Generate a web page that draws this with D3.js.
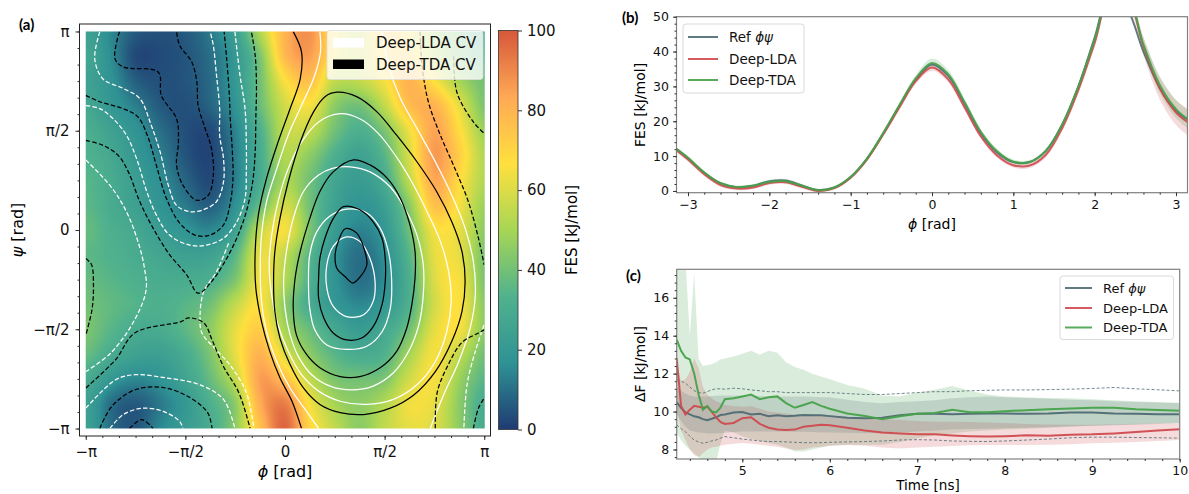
<!DOCTYPE html>
<html lang="en">
<head>
<meta charset="UTF-8">
<title>FES comparison</title>
<script src="https://d3js.org/d3.v7.min.js"></script>
<style>
  body { margin: 0; background: #fff; }
  svg { font-family: 'DejaVu Sans', sans-serif; }
  .tick line { stroke: #333; }
  .tick text { fill: #111; }
</style>
</head>
<body>
<svg id="fig" width="1189" height="494"></svg>
<script>
// ---------- data: panel (a) FES grid, rows psi = +pi .. -pi, cols phi = -pi .. pi (step pi/8)
const fesPhi = d3.range(17).map(k => -Math.PI + k * Math.PI / 8);
const fesPsi = d3.range(17).map(k => Math.PI - k * Math.PI / 8);
const fesGrid = [
  [25, 15,  6,  4,  6, 12, 24, 52, 80, 88, 66, 55, 75, 65, 50, 40, 30],
  [28, 16,  3,  3,  5, 10, 20, 42, 78, 85, 65, 58, 68, 72, 55, 42, 35],
  [25, 18,  7,  4,  5,  9, 20, 40, 66, 76, 55, 55, 65, 80, 66, 50, 40],
  [28, 20, 13,  6,  4,  8, 18, 38, 58, 65, 45, 40, 55, 77, 80, 62, 42],
  [32, 25, 18, 10,  4,  3, 14, 32, 55, 55, 40, 32, 42, 64, 84, 68, 48],
  [33, 28, 20, 13,  5,  2, 13, 30, 52, 45, 32, 25, 35, 60, 86, 72, 52],
  [35, 30, 23, 16,  8,  3, 13, 30, 50, 40, 27, 22, 30, 55, 83, 68, 52],
  [36, 30, 24, 18, 12,  7, 17, 38, 58, 40, 25, 18, 24, 45, 76, 65, 48],
  [38, 32, 28, 22, 18, 15, 25, 55, 65, 42, 22, 14, 20, 40, 65, 62, 45],
  [36, 33, 30, 27, 24, 25, 35, 62, 55, 35, 18, 10, 17, 35, 62, 62, 42],
  [38, 35, 32, 30, 30, 32, 42, 64, 52, 33, 18, 10, 16, 32, 60, 65, 42],
  [40, 37, 34, 32, 35, 40, 55, 66, 45, 30, 20, 15, 20, 33, 58, 66, 45],
  [42, 35, 30, 30, 36, 45, 62, 72, 50, 38, 28, 22, 28, 40, 62, 65, 45],
  [38, 30, 25, 24, 30, 42, 62, 80, 60, 45, 35, 30, 33, 50, 65, 55, 40],
  [30, 20, 15, 18, 26, 38, 55, 85, 76, 55, 42, 40, 42, 58, 65, 48, 35],
  [25, 10,  6, 12, 20, 32, 45, 82, 92, 65, 50, 45, 52, 64, 62, 45, 30],
  [25, 10,  5, 15, 22, 30, 45, 76, 97, 70, 55, 45, 55, 62, 60, 45, 30]
];
const fessa = ['#1F3B73', '#2F9294', '#50B28D', '#A7D655', '#FFE03E', '#FFA955', '#D6573B'];
const cbTicks = [0, 20, 40, 60, 80, 100];
const piTicks = [-Math.PI, -Math.PI / 2, 0, Math.PI / 2, Math.PI];
const piLabels = ['\u2212\u03c0', '\u2212\u03c0/2', '0', '\u03c0/2', '\u03c0'];

// CV iso-lines [phi, psi]
const tdaLoops = [
  [[0.95,0.02],[1.13,-0.05],[1.26,-0.34],[1.29,-0.55],[1.21,-0.71],[1.07,-0.84],[0.95,-0.74],[0.82,-0.61],[0.79,-0.39],[0.84,-0.18]],
  [[0.92,0.37],[1.18,0.32],[1.39,0.13],[1.53,-0.13],[1.58,-0.45],[1.58,-0.82],[1.53,-1.18],[1.39,-1.53],[1.21,-1.71],[0.97,-1.74],[0.76,-1.63],[0.61,-1.39],[0.53,-1.08],[0.53,-0.76],[0.55,-0.45],[0.63,-0.13],[0.76,0.18]],
  [[1.08,1.11],[1.34,1.03],[1.61,0.82],[1.82,0.50],[1.97,0.08],[2.05,-0.34],[2.05,-0.76],[2.00,-1.18],[1.92,-1.55],[1.76,-1.92],[1.50,-2.18],[1.18,-2.32],[0.87,-2.32],[0.55,-2.18],[0.34,-1.97],[0.18,-1.66],[0.13,-1.24],[0.16,-0.76],[0.24,-0.34],[0.39,0.18],[0.55,0.61],[0.76,0.92]],
  [[0.82,2.18],[1.13,2.11],[1.45,1.87],[1.76,1.50],[2.08,1.08],[2.39,0.61],[2.63,0.13],[2.79,-0.34],[2.84,-0.82],[2.79,-1.29],[2.63,-1.76],[2.37,-2.24],[2.03,-2.61],[1.66,-2.82],[1.24,-2.92],[0.87,-2.89],[0.55,-2.76],[0.29,-2.50],[0.08,-2.13],[-0.08,-1.71],[-0.16,-1.29],[-0.18,-0.82],[-0.16,-0.34],[-0.08,0.18],[0.05,0.76],[0.24,1.39],[0.45,1.87],[0.63,2.11]]
];
const tdaOpen = [
  [[0.13,3.14],[0.26,2.82],[0.24,2.39],[0.08,1.92],[-0.11,1.39],[-0.29,0.82],[-0.42,0.24],[-0.47,-0.34],[-0.46,-0.92],[-0.37,-1.45],[-0.24,-1.92],[-0.08,-2.34],[0.11,-2.71],[0.26,-3.14]]
];
const tdaNeg = [
  [[-2.61,3.14],[-2.68,2.71],[-2.55,2.58],[-2.00,2.50],[-1.95,2.13],[-1.71,1.76],[-1.68,1.39],[-1.71,1.03],[-1.61,0.71],[-1.39,0.47],[-1.21,0.55],[-1.13,0.87],[-1.16,1.29],[-1.26,1.61],[-1.37,1.97],[-1.39,2.34],[-1.47,2.66],[-1.66,2.92],[-1.71,3.14]],
  [[-3.14,2.13],[-2.92,2.03],[-2.55,1.92],[-2.32,1.79],[-2.16,1.47],[-2.03,1.03],[-1.87,0.50],[-1.66,0.11],[-1.42,-0.08],[-1.18,-0.08],[-0.97,0.08],[-0.87,0.39],[-0.82,0.82],[-0.83,1.24],[-0.86,1.71],[-0.88,2.18],[-0.92,2.71],[-0.96,3.14]],
  [[-3.14,1.42],[-2.87,1.34],[-2.63,1.18],[-2.47,0.92],[-2.29,0.45],[-2.08,0.03],[-1.82,-0.39],[-1.55,-0.71],[-1.37,-1.00],[-1.16,-0.82],[-0.92,-0.45],[-0.74,-0.08],[-0.61,0.29],[-0.51,0.76],[-0.47,1.24],[-0.46,1.76],[-0.45,2.29],[-0.47,2.76],[-0.53,3.14]],
  [[-3.14,-0.45],[-3.05,-0.55],[-3.02,-0.87],[-3.04,-1.24],[-3.11,-1.55],[-3.14,-1.66]],
  [[-3.14,-2.50],[-2.67,-2.05],[-2.37,-1.63],[-1.64,-1.45],[-1.52,-1.39],[-1.28,-1.47],[-1.15,-1.74],[-0.97,-2.16],[-0.73,-2.57],[-0.55,-3.14]],
  [[-2.92,-3.14],[-2.73,-2.79],[-2.37,-2.53],[-1.94,-2.49],[-1.52,-2.64],[-1.22,-2.89],[-1.15,-3.14]],
  [[-2.45,-3.14],[-2.26,-3.00],[-2.08,-3.14]],
  [[2.13,3.14],[2.16,2.61],[2.26,2.03],[2.45,1.50],[2.68,0.97],[2.89,0.45],[3.05,-0.13],[3.14,-0.55]],
  [[2.66,2.75],[2.71,2.18],[2.97,1.71],[3.14,1.53]],
  [[2.37,-3.14],[2.40,-2.57],[2.56,-2.16],[2.79,-1.78],[3.05,-1.63],[3.14,-1.58]],
  [[2.97,-3.14],[3.05,-2.82],[3.14,-2.66]]
];
const ldaLoops = [
  [[0.97,-0.11],[1.18,-0.18],[1.34,-0.45],[1.42,-0.82],[1.39,-1.13],[1.24,-1.34],[0.97,-1.37],[0.76,-1.21],[0.66,-0.92],[0.66,-0.55],[0.76,-0.26]],
  [[0.97,0.33],[1.29,0.27],[1.50,0.03],[1.63,-0.34],[1.68,-0.76],[1.66,-1.24],[1.53,-1.61],[1.29,-1.84],[0.97,-1.89],[0.66,-1.82],[0.47,-1.58],[0.39,-1.24],[0.37,-0.82],[0.39,-0.39],[0.50,-0.03],[0.71,0.22]],
  [[1.03,1.00],[1.34,0.92],[1.66,0.68],[1.89,0.34],[2.08,-0.08],[2.18,-0.55],[2.18,-1.03],[2.11,-1.50],[1.95,-1.92],[1.71,-2.26],[1.39,-2.47],[1.05,-2.53],[0.71,-2.47],[0.42,-2.29],[0.21,-2.00],[0.08,-1.66],[0.00,-1.24],[-0.02,-0.76],[0.03,-0.29],[0.13,0.18],[0.29,0.61],[0.53,0.87],[0.76,0.98]],
  [[0.87,1.84],[1.18,1.76],[1.47,1.53],[1.74,1.18],[2.00,0.76],[2.24,0.29],[2.45,-0.18],[2.58,-0.66],[2.62,-1.13],[2.55,-1.61],[2.37,-2.08],[2.08,-2.45],[1.71,-2.68],[1.29,-2.76],[0.87,-2.71],[0.53,-2.55],[0.26,-2.29],[0.05,-1.92],[-0.11,-1.50],[-0.21,-1.03],[-0.25,-0.55],[-0.21,-0.08],[-0.11,0.45],[0.05,0.97],[0.26,1.39],[0.53,1.71]]
];
const ldaOpen = [
  [[0.55,3.14],[0.56,2.82],[0.47,2.45],[0.26,1.97],[0.05,1.50],[-0.13,0.97],[-0.29,0.45],[-0.37,-0.08],[-0.39,-0.61],[-0.37,-1.13],[-0.29,-1.61],[-0.13,-2.08],[0.08,-2.50],[0.34,-2.87],[0.53,-3.14]],
  [[1.53,3.14],[1.63,2.61],[1.82,2.08],[2.08,1.61],[2.37,1.08],[2.63,0.55],[2.84,0.03],[2.97,-0.50],[3.00,-1.03],[2.92,-1.55],[2.74,-2.08],[2.50,-2.61],[2.29,-3.14]]
];
const ldaNeg = [
  [[-2.92,3.14],[-3.00,2.71],[-2.87,2.39],[-2.55,2.24],[-2.29,2.08],[-2.11,1.66],[-1.97,1.24],[-1.84,0.71],[-1.71,0.39],[-1.50,0.29],[-1.29,0.32],[-1.08,0.45],[-0.97,0.76],[-0.97,1.13],[-1.03,1.50],[-1.03,1.92],[-1.08,2.45],[-1.13,2.92],[-1.18,3.14]],
  [[-3.14,1.97],[-2.92,1.92],[-2.71,1.76],[-2.50,1.50],[-2.34,1.13],[-2.18,0.61],[-2.03,0.24],[-1.82,-0.08],[-1.50,-0.24],[-1.24,-0.24],[-0.97,-0.13],[-0.76,0.13],[-0.63,0.50],[-0.61,0.92],[-0.61,1.39],[-0.63,1.92],[-0.71,2.45],[-0.79,3.14]],
  [[-3.14,1.11],[-2.74,0.68],[-2.49,0.27],[-2.31,-0.21],[-2.22,-0.58],[-2.19,-0.95],[-2.37,-1.42],[-2.74,-1.94],[-3.14,-2.24]],
  [[-0.89,-0.21],[-1.08,-0.66],[-1.28,-0.97],[-1.34,-1.37],[-1.31,-1.63],[-1.09,-1.89],[-0.85,-2.16],[-0.61,-2.57],[-0.49,-3.14]],
  [[-3.14,-2.82],[-2.67,-2.37],[-2.37,-2.29],[-1.88,-2.34],[-1.34,-2.45],[-0.97,-2.68],[-0.79,-3.14]],
  [[-2.76,-3.14],[-2.55,-2.92],[-2.24,-2.82],[-1.92,-2.87],[-1.66,-3.03],[-1.61,-3.14]],
  [[3.14,-1.50],[3.00,-1.92],[2.87,-2.45],[2.82,-3.14]]
];

// ---------- data: panel (b) FES along phi
const phiB = [-3.14,-3.0,-2.8,-2.6,-2.4,-2.2,-2.0,-1.8,-1.6,-1.4, -1.2,-1.0,-0.8,-0.6,-0.4,-0.2,0.0,0.2,0.4,0.6, 0.8,1.0,1.2,1.4,1.6,1.8,2.0,2.2,2.4,2.6, 2.8,3.0,3.14];
const refB = [12.0,9.4,5.2,2.2,1.1,1.5,2.8,3.0,1.6,0.3, 1.0,4.0,9.2,16.5,24.5,32.0,36.3,33.0,25.0,16.5, 11.0,8.3,8.3,11.5,19.0,30.0,44.0,58.0,52.5,40.0, 29.5,23.0,20.5];
const ldaB = [11.6,9.0,4.8,1.7,0.7,1.0,2.3,2.5,1.2,0.0, 0.8,3.8,9.0,16.2,24.0,31.5,35.4,32.0,24.0,15.7, 10.2,7.4,7.3,10.4,18.0,29.0,42.5,56.5,55.5,41.5, 29.5,22.5,19.8];
const tdaB = [12.0,9.5,5.3,2.2,1.1,1.5,2.6,2.8,1.5,0.2, 1.0,4.0,9.3,16.6,24.6,32.3,36.7,33.5,25.5,17.0, 11.4,8.4,8.3,11.5,19.0,30.0,43.5,57.0,56.0,42.0, 30.5,23.5,20.7];
const ldaBerr = [0.6,0.6,0.6,0.5,0.5,0.5,0.5,0.5,0.5,0.4, 0.4,0.4,0.5,0.6,0.7,0.8,0.9,0.9,0.8,0.7, 0.7,0.7,0.7,0.8,0.9,1.0,1.2,1.5,2.0,2.6, 3.2,3.6,3.8];
const tdaBerr = [0.5,0.5,0.5,0.5,0.5,0.5,0.6,0.6,0.5,0.4, 0.4,0.4,0.5,0.6,0.8,1.0,1.3,1.2,1.0,0.8, 0.7,0.6,0.6,0.7,0.8,0.9,1.0,1.2,1.5,2.0, 2.4,2.6,2.7];

// ---------- data: panel (c) Delta F vs time
const tC = [4.25,4.3,4.35,4.4,4.45,4.5,4.55,4.6,4.65,4.7, 4.75,4.8,4.9,5.0,5.1,5.2,5.3,5.4,5.5,5.6, 5.7,5.8,5.9,6.0,6.2,6.4,6.6,6.8,7.0,7.2, 7.4,7.6,7.8,8.0,8.25,8.5,8.75,9.0,9.25,9.5, 9.75,10.0];
const refC = [10.5,10.2,9.95,9.85,9.75,9.7,9.6,9.55,9.62,9.7, 9.82,9.85,9.95,9.98,9.85,9.88,9.76,9.8,9.76,9.78, 9.82,9.8,9.8,9.76,9.68,9.65,9.68,9.8,9.88,9.88, 9.86,9.88,9.9,9.9,9.88,9.9,9.95,9.95,9.9,9.88, 9.86,9.86];
const ldaC = [12.8,10.3,9.85,10.1,10.3,10.25,10.2,10.25,10.0,9.7, 9.45,9.35,9.4,9.65,9.7,9.35,9.15,9.05,9.03,9.05, 9.2,9.25,9.3,9.28,9.15,9.0,8.9,8.85,8.8,8.8, 8.74,8.7,8.68,8.7,8.75,8.73,8.78,8.8,8.85,8.92, 9.0,9.07];
const tdaC = [13.8,13.2,12.85,12.75,12.0,10.9,10.1,10.3,10.0,9.95, 10.2,10.65,10.7,10.8,10.9,10.65,10.75,10.8,10.45,10.2, 10.35,10.5,10.3,10.15,9.9,9.77,9.6,9.75,9.88,9.92, 10.1,9.97,9.96,10.02,10.07,10.12,10.16,10.2,10.2,10.12, 10.08,10.05];
const refUp = [11.3,11.1,10.95,10.85,10.8,10.8,10.8,10.8,10.82,10.84, 10.85,10.85,10.85,10.85,10.85,10.82,10.8,10.8,10.8,10.8, 10.8,10.78,10.76,10.75,10.62,10.5,10.44,10.5,10.55,10.6, 10.7,10.75,10.8,10.75,10.72,10.68,10.62,10.6,10.55,10.5, 10.48,10.45];
const refLo = [9.9,9.5,9.2,9.0,8.95,8.9,8.88,8.85,8.85,8.86, 8.86,8.88,8.92,8.95,8.95,8.95,8.95,8.95,8.95,8.94, 8.93,8.92,8.9,8.9,8.88,8.86,8.86,8.9,8.95,9.0, 9.05,9.08,9.1,9.12,9.15,9.18,9.22,9.25,9.28,9.3, 9.35,9.4];
const ldaUp = [12.6,11.6,11.7,12.1,12.8,12.3,11.3,10.9,10.7,10.55, 10.45,10.35,10.3,10.25,10.3,10.15,10.0,9.95,9.9,9.85, 9.85,9.85,9.8,9.8,9.72,9.65,9.58,9.55,9.5,9.47, 9.46,9.45,9.42,9.4,9.35,9.32,9.3,9.3,9.33,9.36, 9.38,9.38];
const ldaLo = [10.1,9.0,8.5,8.0,7.7,7.6,7.8,8.0,8.1,8.15, 8.2,8.25,8.3,8.35,8.3,8.25,8.2,8.15,8.05,7.98, 8.0,8.1,8.15,8.2,8.24,8.2,8.1,8.06,8.1,8.15, 8.18,8.22,8.24,8.24,8.24,8.25,8.28,8.33,8.36,8.4, 8.45,8.5];
const tdaUp = [18,18,18,14.0,17.3,12.8,12.4,12.45,12.5,12.6, 12.75,12.8,12.9,13.05,13.2,13.0,13.2,13.1,12.6,12.35, 12.2,12.0,11.85,11.7,11.4,11.2,10.85,10.8,11.0,11.15, 11.35,11.1,10.9,10.8,10.75,10.72,10.7,10.65,10.6,10.55, 10.5,10.45];
const tdaLo = [8.9,8.5,8.2,8.0,7.8,7.6,7.3,7.3,7.3,7.3, 8.3,9.0,8.9,8.7,8.55,8.45,8.35,8.25,8.1,7.9, 7.9,8.0,8.1,8.2,8.25,8.25,8.25,8.4,8.6,8.75, 8.85,8.95,9.0,9.05,9.1,9.15,9.2,9.25,9.3,9.35, 9.38,9.4];
const dashUp = [11.67,11.6,11.5,11.3,11.1,11.0,10.97,11.05,11.15,11.2, 11.2,11.18,11.23,11.2,11.14,11.1,11.05,11.05,11.0,11.0, 11.0,11.0,11.0,11.0,10.95,10.9,10.9,10.95,11.0,11.05, 11.05,11.1,11.12,11.14,11.14,11.16,11.18,11.22,11.27,11.2, 11.15,11.09];
const dashLo = [9.3,9.1,8.94,8.7,8.5,8.4,8.33,8.38,8.45,8.5, 8.6,8.68,8.62,8.55,8.5,8.45,8.42,8.42,8.4,8.38, 8.36,8.36,8.36,8.38,8.4,8.42,8.45,8.5,8.52,8.5, 8.45,8.43,8.42,8.45,8.5,8.55,8.62,8.65,8.65,8.63, 8.62,8.6];

const seriesNames = ['Ref ', 'Deep-LDA', 'Deep-TDA'];
const colRef = '#4f6c73', colLda = '#cf4a4e', colTda = '#46a249';

const svg = d3.select('#fig');

function styleAxis(g, size) {
  g.attr('font-family', "'DejaVu Sans', sans-serif").attr('font-size', size);
  g.select('.domain').remove();
  g.selectAll('.tick line').attr('stroke', '#333');
}

// =============== panel (a) ===============
const xA = d3.scaleLinear().domain([-3.24, 3.24]).range([79.5, 490.5]);
const yA = d3.scaleLinear().domain([-3.26, 3.26]).range([436, 24]);
const fesColor = d3.scaleLinear().domain(d3.range(7).map(i => i * 100 / 6)).range(fessa).clamp(true);
const lut = d3.range(1001).map(i => d3.rgb(fesColor(i / 10)));

const gx0 = xA(-Math.PI), gx1 = xA(Math.PI), gy0 = yA(Math.PI), gy1 = yA(-Math.PI);
const HW = Math.round(gx1 - gx0), HH = Math.round(gy1 - gy0);
const canvas = document.createElement('canvas');
canvas.width = HW; canvas.height = HH;
const ctx = canvas.getContext('2d');
const img = ctx.createImageData(HW, HH);
const nR = fesGrid.length, nC = fesGrid[0].length;
const at = (r, c) => fesGrid[Math.max(0, Math.min(nR - 1, r))][Math.max(0, Math.min(nC - 1, c))];
const cr = (p0, p1, p2, p3, t) => p1 + 0.5 * t * (p2 - p0 + t * (2 * p0 - 5 * p1 + 4 * p2 - p3 + t * (3 * (p1 - p2) + p3 - p0)));
function fesAt(phi, psi) {
  const u = (phi - fesPhi[0]) / (fesPhi[1] - fesPhi[0]);
  const v = (fesPsi[0] - psi) / (fesPsi[0] - fesPsi[1]);
  const c = Math.floor(u), r = Math.floor(v), tu = u - c, tv = v - r;
  const rows = [-1, 0, 1, 2].map(k => cr(at(r + k, c - 1), at(r + k, c), at(r + k, c + 1), at(r + k, c + 2), tu));
  return cr(rows[0], rows[1], rows[2], rows[3], tv);
}
for (let j = 0; j < HH; j++) {
  const psi = yA.invert(gy0 + j + 0.5);
  for (let i = 0; i < HW; i++) {
    const phi = xA.invert(gx0 + i + 0.5);
    let v = fesAt(phi, psi);
    v = Math.max(0, Math.min(100, v));
    const c = lut[Math.round(v * 10)];
    const k = (j * HW + i) * 4;
    img.data[k] = c.r; img.data[k + 1] = c.g; img.data[k + 2] = c.b; img.data[k + 3] = 255;
  }
}
ctx.putImageData(img, 0, 0);

const gA = svg.append('g');
gA.append('image').attr('x', gx0).attr('y', gy0).attr('width', HW).attr('height', HH)
  .attr('preserveAspectRatio', 'none').attr('href', canvas.toDataURL());

const defs = svg.append('defs');
defs.append('clipPath').attr('id', 'clipA').append('rect')
  .attr('x', gx0).attr('y', gy0).attr('width', gx1 - gx0).attr('height', gy1 - gy0);

const openA = d3.line().x(d => xA(d[0])).y(d => yA(d[1])).curve(d3.curveCatmullRom.alpha(0.5));
const loopA = d3.line().x(d => xA(d[0])).y(d => yA(d[1])).curve(d3.curveCatmullRomClosed.alpha(0.5));
const cont = gA.append('g').attr('clip-path', 'url(#clipA)').attr('fill', 'none').attr('stroke-width', 1.25);
function drawSet(data, gen, color, dashed) {
  cont.selectAll(null).data(data).enter().append('path')
    .attr('d', gen).attr('stroke', color)
    .attr('stroke-dasharray', dashed ? '4.5,2.2' : null);
}
drawSet(ldaLoops, loopA, '#fff', false);
drawSet(ldaOpen, openA, '#fff', false);
drawSet(ldaNeg, openA, '#fff', true);
drawSet(tdaLoops, loopA, '#000', false);
drawSet(tdaOpen, openA, '#000', false);
drawSet(tdaNeg, openA, '#000', true);

// frame + axes (a)
gA.append('rect').attr('x', 79.5).attr('y', 24).attr('width', 411).attr('height', 412)
  .attr('fill', 'none').attr('stroke', '#222').attr('stroke-width', 1);
const minorPi = d3.range(-12, 13).map(k => k * Math.PI / 12);
const axAx = gA.append('g').attr('transform', 'translate(0,436)')
  .call(d3.axisBottom(xA).tickValues(piTicks).tickFormat((d, i) => piLabels[i]).tickSize(4).tickPadding(6));
styleAxis(axAx, 15);
const axAxm = gA.append('g').attr('transform', 'translate(0,436)')
  .call(d3.axisBottom(xA).tickValues(minorPi).tickFormat('').tickSize(2));
styleAxis(axAxm, 15);
const axAy = gA.append('g').attr('transform', 'translate(79.5,0)')
  .call(d3.axisLeft(yA).tickValues(piTicks).tickFormat((d, i) => piLabels[i]).tickSize(4).tickPadding(6));
styleAxis(axAy, 15);
const axAym = gA.append('g').attr('transform', 'translate(79.5,0)')
  .call(d3.axisLeft(yA).tickValues(minorPi).tickFormat('').tickSize(2));
styleAxis(axAym, 15);

gA.append('text').attr('x', 285).attr('y', 477).attr('text-anchor', 'middle').attr('font-size', 16)
  .html('<tspan font-style="italic">\u03d5</tspan> [rad]');
gA.append('text').attr('transform', 'translate(23,230) rotate(-90)').attr('text-anchor', 'middle').attr('font-size', 16)
  .html('<tspan font-style="italic">\u03c8</tspan> [rad]');
svg.append('text').attr('x', 19).attr('y', 30).attr('font-family', 'Lato, sans-serif')
  .attr('font-weight', 'bold').attr('font-size', 15).text('(a)');

// legend (a)
const legA = gA.append('g');
legA.append('rect').attr('x', 327).attr('y', 30.5).attr('width', 156).attr('height', 49).attr('rx', 3)
  .attr('fill', '#fff').attr('fill-opacity', 0.8).attr('stroke', '#ddd').attr('stroke-width', 0.8);
[['#fff', 'Deep-LDA CV', 38], ['#000', 'Deep-TDA CV', 59.5]].forEach(([c, t, yy]) => {
  legA.append('rect').attr('x', 333).attr('y', yy).attr('width', 31).attr('height', 9.5).attr('fill', c);
  legA.append('text').attr('x', 376).attr('y', yy + 10).attr('font-size', 15).attr('fill', '#111').text(t);
});

// colorbar
const yCb = d3.scaleLinear().domain([0, 100]).range([429.5, 30.5]);
const grad = defs.append('linearGradient').attr('id', 'cbGrad').attr('x1', 0).attr('y1', 1).attr('x2', 0).attr('y2', 0);
fessa.forEach((c, i) => grad.append('stop').attr('offset', i / (fessa.length - 1)).attr('stop-color', c));
svg.append('rect').attr('x', 498.5).attr('y', yCb(100)).attr('width', 19.5).attr('height', yCb(0) - yCb(100))
  .attr('fill', 'url(#cbGrad)').attr('stroke', '#333').attr('stroke-width', 0.8);
const axCb = svg.append('g').attr('transform', 'translate(518,0)')
  .call(d3.axisRight(yCb).tickValues(cbTicks).tickSize(4).tickPadding(5));
styleAxis(axCb, 15);
svg.append('text').attr('transform', 'translate(577,230) rotate(-90)').attr('text-anchor', 'middle')
  .attr('font-size', 15).text('FES [kJ/mol]');

// =============== panel (b) ===============
const xB = d3.scaleLinear().domain([-Math.PI, Math.PI]).range([676.5, 1187.5]);
const yB = d3.scaleLinear().domain([-0.5, 50]).range([192.7, 16.7]);
defs.append('clipPath').attr('id', 'clipB').append('rect')
  .attr('x', 676.5).attr('y', 16.7).attr('width', 511).attr('height', 176);
const gB = svg.append('g');
const plotB = gB.append('g').attr('clip-path', 'url(#clipB)');
const rowsB = phiB.map((p, i) => ({ p, r: refB[i], l: ldaB[i], t: tdaB[i], le: ldaBerr[i], te: tdaBerr[i] }));
const areaB = (f, e) => d3.area().x(d => xB(d.p)).y0(d => yB(d[f] - d[e])).y1(d => yB(d[f] + d[e])).curve(d3.curveCatmullRom);
const lineB = f => d3.line().x(d => xB(d.p)).y(d => yB(d[f])).curve(d3.curveCatmullRom);
plotB.append('path').datum(rowsB).attr('d', areaB('l', 'le')).attr('fill', colLda).attr('fill-opacity', 0.2);
plotB.append('path').datum(rowsB).attr('d', areaB('t', 'te')).attr('fill', colTda).attr('fill-opacity', 0.2);
[['r', colRef], ['l', colLda], ['t', colTda]].forEach(([f, c]) => {
  plotB.append('path').datum(rowsB).attr('d', lineB(f)).attr('fill', 'none')
    .attr('stroke', c).attr('stroke-width', 2).attr('stroke-opacity', 0.9);
});
gB.append('rect').attr('x', 676.5).attr('y', 16.7).attr('width', 511).attr('height', 176)
  .attr('fill', 'none').attr('stroke', '#808080').attr('stroke-width', 1.2);
const axBx = gB.append('g').attr('transform', 'translate(0,192.7)')
  .call(d3.axisBottom(xB).tickValues(d3.range(-3, 4)).tickFormat(d3.format('d')).tickSize(3.5).tickPadding(4));
styleAxis(axBx, 12.5);
axBx.selectAll('text').text(d => d < 0 ? '\u2212' + Math.abs(d) : d);
const axBxm = gB.append('g').attr('transform', 'translate(0,192.7)')
  .call(d3.axisBottom(xB).tickValues(d3.range(-15, 16).map(k => k / 5)).tickFormat('').tickSize(2));
styleAxis(axBxm, 12);
const axBy = gB.append('g').attr('transform', 'translate(676.5,0)')
  .call(d3.axisLeft(yB).tickValues(d3.range(0, 51, 10)).tickSize(3.5).tickPadding(4));
styleAxis(axBy, 12.5);
const axBym = gB.append('g').attr('transform', 'translate(676.5,0)')
  .call(d3.axisLeft(yB).tickValues(d3.range(0, 51, 2)).tickFormat('').tickSize(2));
styleAxis(axBym, 12);
gB.append('text').attr('x', 932).attr('y', 229).attr('text-anchor', 'middle').attr('font-size', 14)
  .html('<tspan font-style="italic">\u03d5</tspan> [rad]');
gB.append('text').attr('transform', 'translate(645,105) rotate(-90)').attr('text-anchor', 'middle')
  .attr('font-size', 14).text('FES [kJ/mol]');
svg.append('text').attr('x', 622).attr('y', 23).attr('font-family', 'Lato, sans-serif')
  .attr('font-weight', 'bold').attr('font-size', 15).text('(b)');

function legend(g, x0, y0, w, h, rowY, lx0, lx1, tx, size) {
  g.append('rect').attr('x', x0).attr('y', y0).attr('width', w).attr('height', h).attr('rx', 3)
    .attr('fill', '#fff').attr('fill-opacity', 0.8).attr('stroke', '#d0d0d0').attr('stroke-width', 0.8);
  [colRef, colLda, colTda].forEach((c, i) => {
    g.append('line').attr('x1', lx0).attr('x2', lx1).attr('y1', rowY[i]).attr('y2', rowY[i])
      .attr('stroke', c).attr('stroke-width', 2).attr('stroke-opacity', 0.9);
    const t = g.append('text').attr('x', tx).attr('y', rowY[i] + size * 0.36).attr('font-size', size).attr('fill', '#111');
    if (i === 0) t.html(seriesNames[0] + '<tspan font-style="italic">\u03d5\u03c8</tspan>');
    else t.text(seriesNames[i]);
  });
}
legend(gB, 683, 24, 121, 69, [37, 59, 80], 688, 718, 729, 13.5);

// =============== panel (c) ===============
const xC = d3.scaleLinear().domain([4.25, 10]).range([676.7, 1179.7]);
const yC = d3.scaleLinear().domain([7.5, 17.5]).range([459, 269.3]);
defs.append('clipPath').attr('id', 'clipC').append('rect')
  .attr('x', 676.7).attr('y', 269.3).attr('width', 503).attr('height', 189.7);
const gC = svg.append('g');
const plotC = gC.append('g').attr('clip-path', 'url(#clipC)');
const rowsC = tC.map((t, i) => ({ t, r: refC[i], l: ldaC[i], d: tdaC[i], ru: refUp[i], rl: refLo[i],
  lu: ldaUp[i], ll: ldaLo[i], du: tdaUp[i], dl: tdaLo[i], su: dashUp[i], sl: dashLo[i] }));
const areaC = (lo, hi) => d3.area().x(d => xC(d.t)).y0(d => yC(d[lo])).y1(d => yC(d[hi]));
const lineC = f => d3.line().x(d => xC(d.t)).y(d => yC(d[f]));
plotC.append('path').datum(rowsC).attr('d', areaC('dl', 'du')).attr('fill', colTda).attr('fill-opacity', 0.2);
plotC.append('path').datum(rowsC).attr('d', areaC('ll', 'lu')).attr('fill', colLda).attr('fill-opacity', 0.2);
plotC.append('path').datum(rowsC).attr('d', areaC('rl', 'ru')).attr('fill', colRef).attr('fill-opacity', 0.2);
['su', 'sl'].forEach(f => {
  plotC.append('path').datum(rowsC).attr('d', lineC(f)).attr('fill', 'none')
    .attr('stroke', colRef).attr('stroke-width', 1).attr('stroke-opacity', 0.8).attr('stroke-dasharray', '3,2');
});
[['r', colRef], ['l', colLda], ['d', colTda]].forEach(([f, c]) => {
  plotC.append('path').datum(rowsC).attr('d', lineC(f)).attr('fill', 'none')
    .attr('stroke', c).attr('stroke-width', 2).attr('stroke-opacity', 0.95);
});
gC.append('rect').attr('x', 676.7).attr('y', 269.3).attr('width', 503).attr('height', 189.7)
  .attr('fill', 'none').attr('stroke', '#808080').attr('stroke-width', 1.2);
const axCx = gC.append('g').attr('transform', 'translate(0,459)')
  .call(d3.axisBottom(xC).tickValues(d3.range(5, 11)).tickFormat(d3.format('d')).tickSize(3.5).tickPadding(4));
styleAxis(axCx, 12.5);
const axCxm = gC.append('g').attr('transform', 'translate(0,459)')
  .call(d3.axisBottom(xC).tickValues(d3.range(22, 51).map(k => k / 5)).tickFormat('').tickSize(2));
styleAxis(axCxm, 12);
const axCy = gC.append('g').attr('transform', 'translate(676.7,0)')
  .call(d3.axisLeft(yC).tickValues([8, 10, 12, 14, 16]).tickSize(3.5).tickPadding(4));
styleAxis(axCy, 12.5);
const axCym = gC.append('g').attr('transform', 'translate(676.7,0)')
  .call(d3.axisLeft(yC).tickValues(d3.range(19, 44).map(k => k * 0.4)).tickFormat('').tickSize(2));
styleAxis(axCym, 12);
gC.append('text').attr('x', 928).attr('y', 490).attr('text-anchor', 'middle').attr('font-size', 13.5).text('Time [ns]');
gC.append('text').attr('transform', 'translate(645,364) rotate(-90)').attr('text-anchor', 'middle')
  .attr('font-size', 14).text('\u0394F [kJ/mol]');
svg.append('text').attr('x', 626).attr('y', 281).attr('font-family', 'Lato, sans-serif')
  .attr('font-weight', 'bold').attr('font-size', 15).text('(c)');
legend(gC, 1060, 276, 113.5, 63.5, [288, 308, 327.5], 1065, 1092, 1103, 13);
</script>
</body>
</html>
